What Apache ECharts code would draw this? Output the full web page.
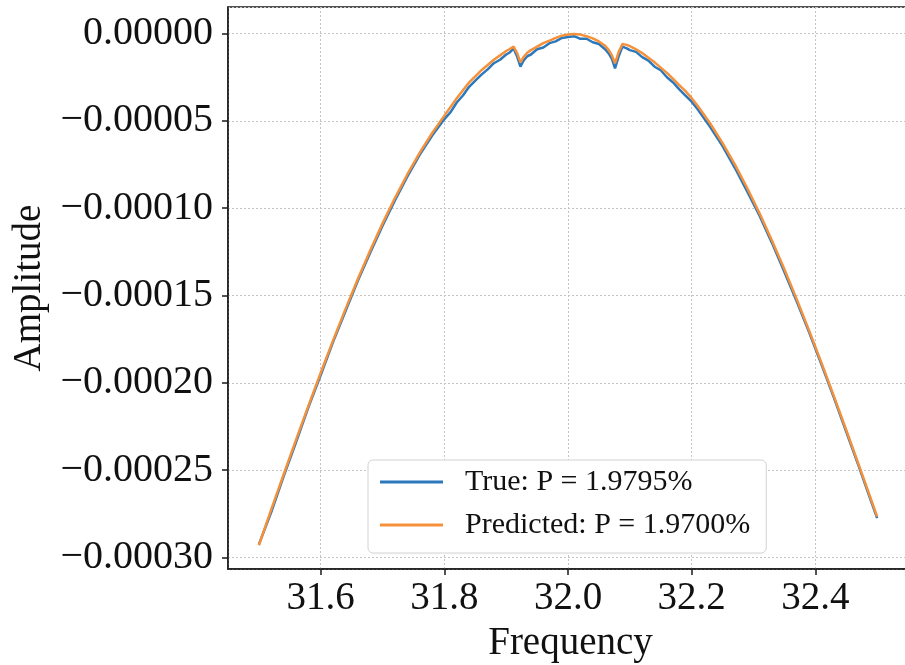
<!DOCTYPE html>
<html>
<head>
<meta charset="utf-8">
<script src="https://cdn.jsdelivr.net/npm/echarts@6/dist/echarts.min.js"></script>
<style>
html,body{margin:0;padding:0;background:#fff;overflow:hidden;}
#chart{width:920px;height:665px;}
</style>
</head>
<body>
<div id="chart"></div>
<script>
const frequency = [31.50, 31.52, 31.54, 31.56, 31.58, 31.60, 31.62, 31.64, 31.66, 31.68, 31.70, 31.72, 31.74, 31.76, 31.78, 31.80,
  31.81, 31.82, 31.83, 31.84, 31.85, 31.86, 31.87, 31.88, 31.89, 31.90, 31.905, 31.912, 31.918, 31.923, 31.928, 31.934,
  31.94, 31.95, 31.96, 31.97, 31.98, 31.99, 32.00, 32.01, 32.02, 32.03, 32.04, 32.05, 32.06, 32.066, 32.071, 32.076,
  32.082, 32.088, 32.095, 32.10, 32.11, 32.12, 32.13, 32.14, 32.15, 32.16, 32.17, 32.18, 32.19, 32.20, 32.21, 32.23,
  32.25, 32.27, 32.29, 32.31, 32.33, 32.35, 32.37, 32.39, 32.41, 32.43, 32.45, 32.47, 32.49, 32.50];

const trueAmp = [-2.925e-4, -2.74e-4, -2.535e-4, -2.34e-4, -2.14e-4, -1.955e-4, -1.765e-4, -1.59e-4, -1.415e-4, -1.255e-4, -1.10e-4, -0.955e-4, -0.82e-4, -0.695e-4, -0.585e-4, -0.49e-4,
  -0.45e-4, -0.395e-4, -0.355e-4, -0.305e-4, -0.27e-4, -0.235e-4, -0.205e-4, -0.17e-4, -0.15e-4, -0.12e-4, -0.11e-4, -0.085e-4, -0.135e-4, -0.19e-4, -0.155e-4, -0.13e-4,
  -0.12e-4, -0.09e-4, -0.08e-4, -0.055e-4, -0.045e-4, -0.025e-4, -0.02e-4, -0.015e-4, -0.03e-4, -0.03e-4, -0.05e-4, -0.06e-4, -0.09e-4, -0.115e-4, -0.145e-4, -0.20e-4,
  -0.13e-4, -0.075e-4, -0.085e-4, -0.095e-4, -0.105e-4, -0.135e-4, -0.155e-4, -0.19e-4, -0.21e-4, -0.25e-4, -0.28e-4, -0.32e-4, -0.355e-4, -0.39e-4, -0.435e-4, -0.535e-4,
  -0.645e-4, -0.77e-4, -0.905e-4, -1.045e-4, -1.20e-4, -1.365e-4, -1.535e-4, -1.71e-4, -1.895e-4, -2.085e-4, -2.28e-4, -2.475e-4, -2.675e-4, -2.775e-4];

const predictedAmp = [-2.93e-4, -2.725e-4, -2.525e-4, -2.327e-4, -2.132e-4, -1.942e-4, -1.757e-4, -1.578e-4, -1.406e-4, -1.242e-4, -1.087e-4, -0.942e-4, -0.807e-4, -0.683e-4, -0.571e-4, -0.47e-4,
  -0.42e-4, -0.37e-4, -0.325e-4, -0.28e-4, -0.245e-4, -0.21e-4, -0.18e-4, -0.15e-4, -0.125e-4, -0.10e-4, -0.09e-4, -0.075e-4, -0.115e-4, -0.165e-4, -0.135e-4, -0.11e-4,
  -0.095e-4, -0.075e-4, -0.055e-4, -0.04e-4, -0.025e-4, -0.012e-4, -0.005e-4, -0.003e-4, -0.006e-4, -0.015e-4, -0.028e-4, -0.045e-4, -0.07e-4, -0.095e-4, -0.125e-4, -0.17e-4,
  -0.105e-4, -0.06e-4, -0.065e-4, -0.072e-4, -0.09e-4, -0.112e-4, -0.138e-4, -0.165e-4, -0.195e-4, -0.225e-4, -0.26e-4, -0.295e-4, -0.33e-4, -0.37e-4, -0.415e-4, -0.515e-4,
  -0.627e-4, -0.751e-4, -0.886e-4, -1.031e-4, -1.186e-4, -1.35e-4, -1.522e-4, -1.701e-4, -1.886e-4, -2.076e-4, -2.27e-4, -2.467e-4, -2.666e-4, -2.766e-4];

const seriesNames = ['True: P = 1.9795%', 'Predicted: P = 1.9700%'];
const xAxisTitle = 'Frequency';
const yAxisTitle = 'Amplitude';

const FONT = '"Liberation Serif", "Times New Roman", serif';

const chart = echarts.init(document.getElementById('chart'), null, {renderer: 'canvas'});

function pairs(xs, ys) { return xs.map((x, i) => [x, ys[i]]); }

const option = {
  backgroundColor: '#ffffff',
  animation: false,
  grid: {
    left: 228, top: 7, width: 685, height: 562,
    outerBoundsMode: 'none', containLabel: false,
    show: true, borderColor: '#1a1a1a', borderWidth: 1.5, backgroundColor: 'transparent'
  },
  legend: {
    orient: 'vertical',
    left: 368, top: 460,
    padding: [7, 16, 13, 12],
    itemGap: 13,
    itemWidth: 63, itemHeight: 3,
    icon: 'rect',
    backgroundColor: '#ffffff',
    borderColor: '#d2d2d2', borderWidth: 1, borderRadius: 5,
    textStyle: {fontFamily: FONT, fontSize: 30, color: '#111', padding: [0, 0, 0, 17]},
    data: seriesNames
  },
  xAxis: {
    type: 'value',
    min: 31.45, max: 32.558,
    minInterval: 0.2, maxInterval: 0.2,
    name: xAxisTitle, nameLocation: 'middle', nameGap: 55,
    nameTextStyle: {fontFamily: FONT, fontSize: 39, color: '#111'},
    axisLine: {show: true, onZero: false, lineStyle: {color: '#1a1a1a', width: 1.5}},
    axisTick: {show: true, inside: false, length: 6, lineStyle: {color: '#1a1a1a', width: 1.5}},
    axisLabel: {
      fontFamily: FONT, fontSize: 39, color: '#111', margin: 10,
      showMinLabel: false, showMaxLabel: false,
      formatter: v => v.toFixed(1)
    },
    splitLine: {show: true, lineStyle: {color: '#c4c4c4', width: 1, type: [2, 2]}}
  },
  yAxis: {
    type: 'value',
    min: -3.066e-4, max: 1.52e-5,
    minInterval: 5e-5, maxInterval: 5e-5,
    name: yAxisTitle, nameLocation: 'middle', nameGap: 178, nameRotate: 90,
    nameTextStyle: {fontFamily: FONT, fontSize: 39, color: '#111'},
    axisLine: {show: true, onZero: false, lineStyle: {color: '#1a1a1a', width: 1.5}},
    axisTick: {show: true, inside: false, length: 6, lineStyle: {color: '#1a1a1a', width: 1.5}},
    axisLabel: {
      fontFamily: FONT, fontSize: 40, color: '#111', margin: 15,
      showMinLabel: false, showMaxLabel: false,
      formatter: v => (v < -1e-12 ? '\u2212' : '') + Math.abs(v).toFixed(5)
    },
    splitLine: {show: true, lineStyle: {color: '#c4c4c4', width: 1, type: [2, 2]}}
  },
  series: [
    {
      name: seriesNames[0], type: 'line', data: pairs(frequency, trueAmp),
      showSymbol: false, symbol: 'none', smooth: false,
      lineStyle: {color: '#2b78bd', width: 2.5}, itemStyle: {color: '#2b78bd'}, z: 2
    },
    {
      name: seriesNames[1], type: 'line', data: pairs(frequency, predictedAmp),
      showSymbol: false, symbol: 'none', smooth: false,
      lineStyle: {color: '#f5913a', width: 2.5}, itemStyle: {color: '#f5913a'}, z: 3
    }
  ]
};
chart.setOption(option);
</script>
</body>
</html>
